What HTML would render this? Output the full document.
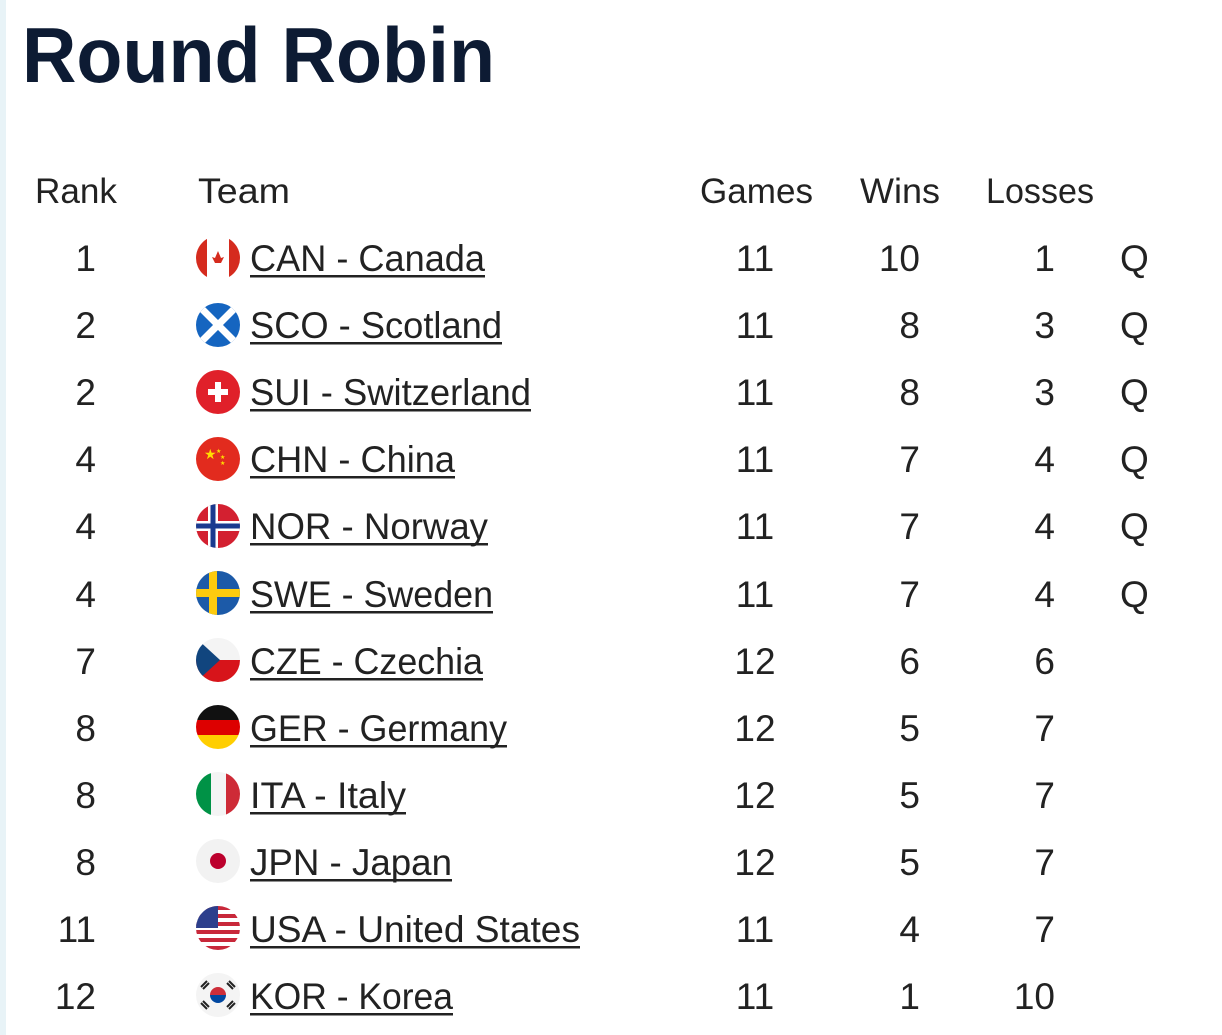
<!DOCTYPE html>
<html><head><meta charset="utf-8"><style>
html,body{margin:0;padding:0;background:#fff;}
svg{display:block}
text{font-family:"Liberation Sans",sans-serif;}
</style></head><body>
<svg width="1222" height="1035" viewBox="0 0 1222 1035" xmlns="http://www.w3.org/2000/svg">
<rect width="1222" height="1035" fill="#fff"/>
<rect x="0" y="0" width="6" height="1035" fill="#e8f3f7"/>
<text x="22" y="82" font-size="78" font-weight="bold" fill="#0d1b33" textLength="473" lengthAdjust="spacingAndGlyphs">Round Robin</text>
<g font-size="35" fill="#222">
<text x="35" y="203" textLength="82" lengthAdjust="spacingAndGlyphs">Rank</text>
<text x="198" y="203" textLength="92" lengthAdjust="spacingAndGlyphs">Team</text>
<text x="700" y="203" textLength="113" lengthAdjust="spacingAndGlyphs">Games</text>
<text x="860" y="203" textLength="80" lengthAdjust="spacingAndGlyphs">Wins</text>
<text x="986" y="203" textLength="108" lengthAdjust="spacingAndGlyphs">Losses</text>
</g>
<defs>
<clipPath id="c"><circle cx="0" cy="0" r="22"/></clipPath>
</defs>
<g font-size="37" fill="#222">
<!-- rows -->
<g id="rows">
<text x="96" y="271" text-anchor="end">1</text><text x="755" y="271" text-anchor="middle">11</text><text x="920" y="271" text-anchor="end">10</text><text x="1055" y="271" text-anchor="end">1</text><text x="1120" y="271">Q</text>
<text x="250" y="271" textLength="235" lengthAdjust="spacingAndGlyphs">CAN - Canada</text><rect x="250" y="275" width="235" height="2.5"/>
<text x="96" y="338" text-anchor="end">2</text><text x="755" y="338" text-anchor="middle">11</text><text x="920" y="338" text-anchor="end">8</text><text x="1055" y="338" text-anchor="end">3</text><text x="1120" y="338">Q</text>
<text x="250" y="338" textLength="252" lengthAdjust="spacingAndGlyphs">SCO - Scotland</text><rect x="250" y="342" width="252" height="2.5"/>
<text x="96" y="405" text-anchor="end">2</text><text x="755" y="405" text-anchor="middle">11</text><text x="920" y="405" text-anchor="end">8</text><text x="1055" y="405" text-anchor="end">3</text><text x="1120" y="405">Q</text>
<text x="250" y="405" textLength="281" lengthAdjust="spacingAndGlyphs">SUI - Switzerland</text><rect x="250" y="409" width="281" height="2.5"/>
<text x="96" y="472" text-anchor="end">4</text><text x="755" y="472" text-anchor="middle">11</text><text x="920" y="472" text-anchor="end">7</text><text x="1055" y="472" text-anchor="end">4</text><text x="1120" y="472">Q</text>
<text x="250" y="472" textLength="205" lengthAdjust="spacingAndGlyphs">CHN - China</text><rect x="250" y="476" width="205" height="2.5"/>
<text x="96" y="539" text-anchor="end">4</text><text x="755" y="539" text-anchor="middle">11</text><text x="920" y="539" text-anchor="end">7</text><text x="1055" y="539" text-anchor="end">4</text><text x="1120" y="539">Q</text>
<text x="250" y="539" textLength="238" lengthAdjust="spacingAndGlyphs">NOR - Norway</text><rect x="250" y="543" width="238" height="2.5"/>
<text x="96" y="607" text-anchor="end">4</text><text x="755" y="607" text-anchor="middle">11</text><text x="920" y="607" text-anchor="end">7</text><text x="1055" y="607" text-anchor="end">4</text><text x="1120" y="607">Q</text>
<text x="250" y="607" textLength="243" lengthAdjust="spacingAndGlyphs">SWE - Sweden</text><rect x="250" y="611" width="243" height="2.5"/>
<text x="96" y="674" text-anchor="end">7</text><text x="755" y="674" text-anchor="middle">12</text><text x="920" y="674" text-anchor="end">6</text><text x="1055" y="674" text-anchor="end">6</text>
<text x="250" y="674" textLength="233" lengthAdjust="spacingAndGlyphs">CZE - Czechia</text><rect x="250" y="678" width="233" height="2.5"/>
<text x="96" y="741" text-anchor="end">8</text><text x="755" y="741" text-anchor="middle">12</text><text x="920" y="741" text-anchor="end">5</text><text x="1055" y="741" text-anchor="end">7</text>
<text x="250" y="741" textLength="257" lengthAdjust="spacingAndGlyphs">GER - Germany</text><rect x="250" y="745" width="257" height="2.5"/>
<text x="96" y="808" text-anchor="end">8</text><text x="755" y="808" text-anchor="middle">12</text><text x="920" y="808" text-anchor="end">5</text><text x="1055" y="808" text-anchor="end">7</text>
<text x="250" y="808" textLength="156" lengthAdjust="spacingAndGlyphs">ITA - Italy</text><rect x="250" y="812" width="156" height="2.5"/>
<text x="96" y="875" text-anchor="end">8</text><text x="755" y="875" text-anchor="middle">12</text><text x="920" y="875" text-anchor="end">5</text><text x="1055" y="875" text-anchor="end">7</text>
<text x="250" y="875" textLength="202" lengthAdjust="spacingAndGlyphs">JPN - Japan</text><rect x="250" y="879" width="202" height="2.5"/>
<text x="96" y="942" text-anchor="end">11</text><text x="755" y="942" text-anchor="middle">11</text><text x="920" y="942" text-anchor="end">4</text><text x="1055" y="942" text-anchor="end">7</text>
<text x="250" y="942" textLength="330" lengthAdjust="spacingAndGlyphs">USA - United States</text><rect x="250" y="946" width="330" height="2.5"/>
<text x="96" y="1009" text-anchor="end">12</text><text x="755" y="1009" text-anchor="middle">11</text><text x="920" y="1009" text-anchor="end">1</text><text x="1055" y="1009" text-anchor="end">10</text>
<text x="250" y="1009" textLength="203" lengthAdjust="spacingAndGlyphs">KOR - Korea</text><rect x="250" y="1013" width="203" height="2.5"/>
</g>
</g>
<!-- flags -->
<g transform="translate(218,258)" clip-path="url(#c)"><rect x="-22" y="-22" width="44" height="44" fill="#fff"/><rect x="-22" y="-22" width="11" height="44" fill="#d52b1e"/><rect x="11" y="-22" width="11" height="44" fill="#d52b1e"/><path d="M0,-7 L3,0 L6,-1 L3,5 L-3,5 L-6,-1 L-3,0Z" fill="#d52b1e"/></g>
<g transform="translate(218,325)" clip-path="url(#c)"><rect x="-22" y="-22" width="44" height="44" fill="#1565c0"/><path d="M-22,-22 L22,22 M22,-22 L-22,22" stroke="#fff" stroke-width="7"/></g>
<g transform="translate(218,392)" clip-path="url(#c)"><rect x="-22" y="-22" width="44" height="44" fill="#e0202a"/><rect x="-3" y="-10" width="6" height="20" fill="#fff"/><rect x="-10" y="-3" width="20" height="6" fill="#fff"/></g>
<g transform="translate(218,459)" clip-path="url(#c)"><rect x="-22" y="-22" width="44" height="44" fill="#e22b1e"/><text x="-14" y="0" font-size="14" fill="#ffde00">★</text><text x="-2" y="-6" font-size="6" fill="#ffde00">★</text><text x="2" y="0" font-size="6" fill="#ffde00">★</text><text x="2" y="6" font-size="6" fill="#ffde00">★</text></g>
<g transform="translate(218,526)" clip-path="url(#c)"><rect x="-22" y="-22" width="44" height="44" fill="#d32030"/><rect x="-22" y="-5" width="44" height="10" fill="#fff"/><rect x="-10" y="-22" width="10" height="44" fill="#fff"/><rect x="-22" y="-2.5" width="44" height="5" fill="#1a3a8f"/><rect x="-7.5" y="-22" width="5" height="44" fill="#1a3a8f"/></g>
<g transform="translate(218,593)" clip-path="url(#c)"><rect x="-22" y="-22" width="44" height="44" fill="#1c5aa8"/><rect x="-22" y="-4" width="44" height="8" fill="#fdcb0e"/><rect x="-9" y="-22" width="8" height="44" fill="#fdcb0e"/></g>
<g transform="translate(218,660)" clip-path="url(#c)"><rect x="-22" y="-22" width="44" height="22" fill="#f4f4f4"/><rect x="-22" y="0" width="44" height="22" fill="#d7141a"/><path d="M-22,-22 L2,0 L-22,22Z" fill="#11457e"/></g>
<g transform="translate(218,727)" clip-path="url(#c)"><rect x="-22" y="-22" width="44" height="15" fill="#111"/><rect x="-22" y="-7" width="44" height="15" fill="#dd0000"/><rect x="-22" y="8" width="44" height="14" fill="#ffce00"/></g>
<g transform="translate(218,794)" clip-path="url(#c)"><rect x="-22" y="-22" width="15" height="44" fill="#009246"/><rect x="-7" y="-22" width="15" height="44" fill="#f4f4f4"/><rect x="8" y="-22" width="14" height="44" fill="#ce2b37"/></g>
<g transform="translate(218,861)" clip-path="url(#c)"><rect x="-22" y="-22" width="44" height="44" fill="#f2f2f2"/><circle r="8" fill="#bc002d"/></g>
<g transform="translate(218,928)" clip-path="url(#c)"><rect x="-22" y="-22" width="44" height="44" fill="#fff"/><g fill="#c8283a"><rect x="-22" y="-22" width="44" height="4"/><rect x="-22" y="-14" width="44" height="4"/><rect x="-22" y="-6" width="44" height="4"/><rect x="-22" y="2" width="44" height="4"/><rect x="-22" y="10" width="44" height="4"/><rect x="-22" y="18" width="44" height="4"/></g><rect x="-22" y="-22" width="22" height="22" fill="#2c3f8c"/></g>
<g transform="translate(218,995)" clip-path="url(#c)"><rect x="-22" y="-22" width="44" height="44" fill="#f4f4f4"/><path d="M-8,0 A8,8 0 0 1 8,0Z" fill="#cd2e3a"/><path d="M-8,0 A8,8 0 0 0 8,0Z" fill="#0047a0"/><g stroke="#222" stroke-width="2"><path d="M-17,-8 L-11,-14 M-15,-6 L-9,-12"/><path d="M11,-14 L17,-8 M9,-12 L15,-6"/><path d="M-17,8 L-11,14 M-15,6 L-9,12"/><path d="M11,14 L17,8 M9,12 L15,6"/></g></g>
</svg>
</body></html>
